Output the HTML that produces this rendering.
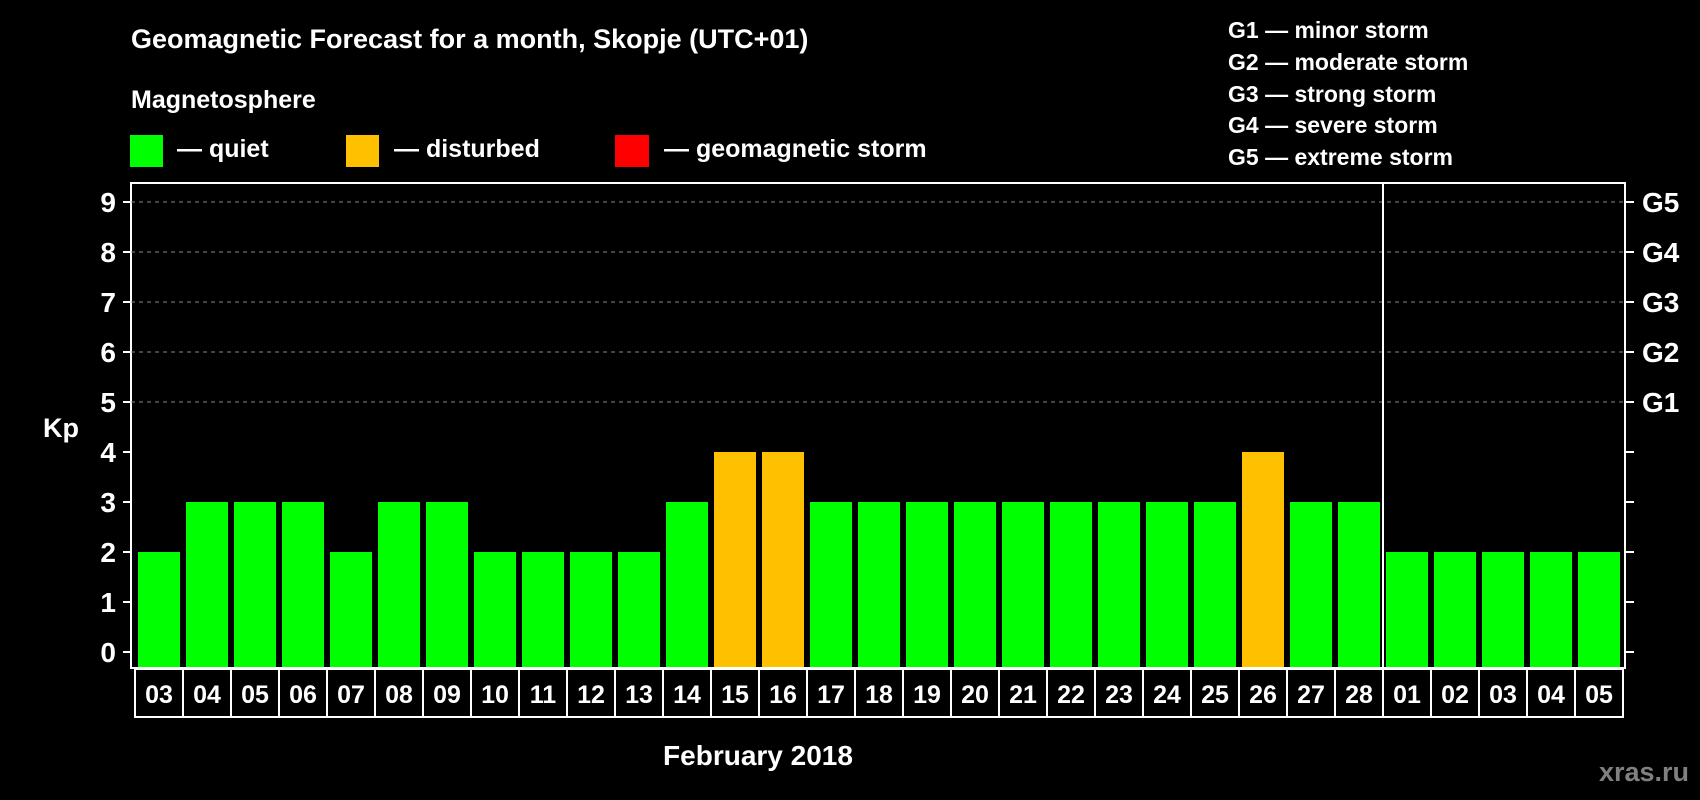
<!DOCTYPE html>
<html><head><meta charset="utf-8"><style>
body{margin:0;background:#000;width:1700px;height:800px;overflow:hidden}
svg{display:block;font-family:"Liberation Sans",sans-serif;font-weight:bold}
</style></head><body>
<svg id="chart" width="1700" height="800">
<text x="131" y="48" fill="#fff" font-size="27">Geomagnetic Forecast for a month, Skopje (UTC+01)</text>
<text x="131" y="108" fill="#fff" font-size="25">Magnetosphere</text>
<rect x="130" y="135" width="33" height="32" fill="#00ff00"/>
<text x="177" y="157" fill="#fff" font-size="25">— quiet</text>
<rect x="346" y="135" width="33" height="32" fill="#ffc000"/>
<text x="394" y="157" fill="#fff" font-size="25">— disturbed</text>
<rect x="615" y="135" width="34" height="32" fill="#ff0000"/>
<text x="664" y="157" fill="#fff" font-size="25">— geomagnetic storm</text>
<g fill="#fff" font-size="23">
<text x="1228" y="38">G1 — minor storm</text>
<text x="1228" y="70">G2 — moderate storm</text>
<text x="1228" y="102">G3 — strong storm</text>
<text x="1228" y="133">G4 — severe storm</text>
<text x="1228" y="165">G5 — extreme storm</text>
</g>
<text x="43" y="437" fill="#fff" font-size="27">Kp</text>
<text x="758" y="765" fill="#fff" font-size="28" text-anchor="middle">February 2018</text>
<text x="1689" y="781" fill="#808080" font-size="27" text-anchor="end">xras.ru</text>
<g id="plot"></g>
</svg>
<script>
const days=["03","04","05","06","07","08","09","10","11","12","13","14","15","16","17","18","19","20","21","22","23","24","25","26","27","28","01","02","03","04","05"];
const kp=[2,3,3,3,2,3,3,2,2,2,2,3,4,4,3,3,3,3,3,3,3,3,3,4,3,3,2,2,2,2,2];
const yTicks=[0,1,2,3,4,5,6,7,8,9];
const gLabels=[[5,"G1"],[6,"G2"],[7,"G3"],[8,"G4"],[9,"G5"]];
const monthSplit=26;
const NS="http://www.w3.org/2000/svg";
const g=document.getElementById('plot');
const L=131,R=1625,T=183,B=668,X0=135,SLOT=48,BW=42;
const y=v=>652-v*50;
const x=i=>X0+i*SLOT;
function mk(t,a){const e=document.createElementNS(NS,t);for(const k in a)e.setAttribute(k,a[k]);g.appendChild(e);return e;}
let e=mk('rect',{x:L,y:T,width:R-L,height:B-T,fill:'#000',stroke:'#fff','stroke-width':2});


yTicks.forEach(v=>{
 if(v>=5){let l=mk('line',{x1:L,x2:R,y1:y(v),y2:y(v),stroke:'#888','stroke-dasharray':'4,4','stroke-width':1});
 
 }
 let t1=mk('line',{x1:123,x2:L,y1:y(v),y2:y(v),stroke:'#fff','stroke-width':2});
 
 
 let t2=mk('line',{x1:R,x2:1634,y1:y(v),y2:y(v),stroke:'#fff','stroke-width':2});
 
 
 let tx=mk('text',{x:116,y:y(v)+10,fill:'#fff','font-size':28,'text-anchor':'end'});
 tx.textContent=v;
 
 
});
gLabels.forEach(([v,s])=>{
 let tx=mk('text',{x:1642,y:y(v)+10,fill:'#fff','font-size':28});
 tx.textContent=s;
 
 
});
kp.forEach((v,i)=>{
 const c=v>=5?'#ff0000':v>=4?'#ffc000':'#00ff00';
 let b=mk('rect',{x:x(i)+3,y:y(v),width:BW,height:B-1-y(v),fill:c});
 
 
 let bx=mk('rect',{x:x(i),y:669,width:SLOT,height:48,fill:'#000',stroke:'#fff','stroke-width':2});
 
 
 let tx=mk('text',{x:x(i)+SLOT/2,y:703,fill:'#fff','font-size':25,'text-anchor':'middle'});
 tx.textContent=days[i];
 
 
});
let sep=mk('line',{x1:x(monthSplit),x2:x(monthSplit),y1:T,y2:B,stroke:'#fff','stroke-width':2});


</script>
</body></html>
